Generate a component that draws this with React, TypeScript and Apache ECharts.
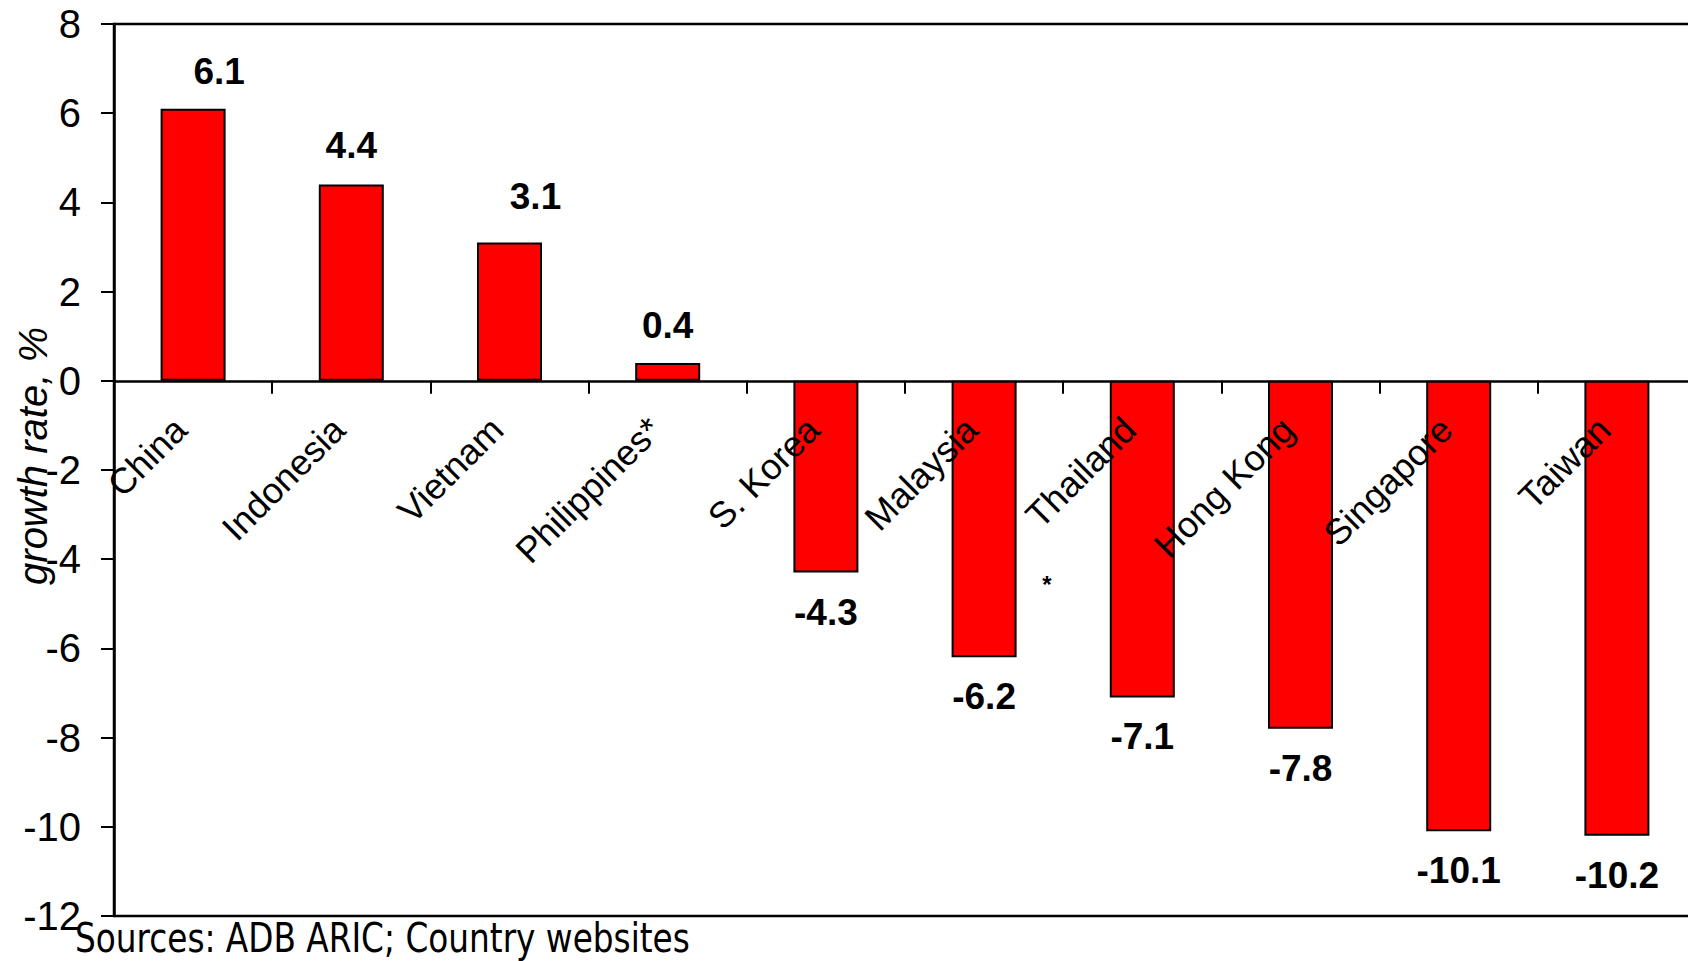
import React, { useEffect, useRef } from "react";
import * as echarts from "echarts";

const categories = [
  "China",
  "Indonesia",
  "Vietnam",
  "Philippines*",
  "S. Korea",
  "Malaysia",
  "Thailand",
  "Hong Kong",
  "Singapore",
  "Taiwan",
];
const growthRates = [6.1, 4.4, 3.1, 0.4, -4.3, -6.2, -7.1, -7.8, -10.1, -10.2];
const yTicks = { min: -12, max: 8, interval: 2 };
const axisTitle = "growth rate, %";
const sourceNote = "Sources: ADB ARIC; Country websites";
const footnoteMark = "*";

// label nudges (style only), keyed by category
const labelNudge: Record<string, [number, number]> = {
  China: [26, 0],
  Vietnam: [26, -9],
  Indonesia: [0, -2],
};

const FONT = "Liberation Sans, Arial, sans-serif";

export default function App() {
  const ref = useRef<HTMLDivElement>(null);
  useEffect(() => {
    if (!ref.current) return;
    const chart = echarts.init(ref.current, null, { renderer: "svg" });
    const data = growthRates.map((v, i) => {
      const nudge = labelNudge[categories[i]] || [0, 0];
      return {
        value: v,
        label: {
          position: v >= 0 ? "top" : "bottom",
          distance: v >= 0 ? 19 : 21,
          offset: nudge,
        },
      };
    });
    const labelAxis = (offset: number) => ({
      type: "category",
      data: categories,
      position: "bottom",
      offset,
      z: 10,
      axisLine: { show: false, onZero: false },
      axisTick: { show: false },
      axisLabel: {
        interval: 0,
        rotate: 45,
        margin: 30,
        padding: [0, 18, 0, 0],
        hideOverlap: false,
        color: "#000000",
        fontSize: 36,
        fontFamily: FONT,
      },
      splitLine: { show: false },
    });
    const baseOption = (offset: number) => ({
      animation: false,
      backgroundColor: "#ffffff",
      grid: {
        left: 114,
        top: 24,
        right: -8,
        bottom: 45,
        show: true,
        borderColor: "#000000",
        borderWidth: 2.5,
        containLabel: false,
        outerBoundsMode: "none",
      },
      xAxis: [
        {
          type: "category",
          data: categories,
          position: "bottom",
          axisLine: { onZero: true, lineStyle: { color: "#000000", width: 2.5 } },
          axisTick: {
            show: true,
            alignWithLabel: false,
            length: 13,
            lineStyle: { color: "#000000", width: 2 },
          },
          axisLabel: { show: false },
          splitLine: { show: false },
        },
        labelAxis(offset),
      ],
      yAxis: {
        type: "value",
        min: yTicks.min,
        max: yTicks.max,
        interval: yTicks.interval,
        axisLine: { show: true, lineStyle: { color: "#000000", width: 2.5 } },
        axisTick: {
          show: true,
          length: 13,
          lineStyle: { color: "#000000", width: 2 },
        },
        axisLabel: {
          margin: 33,
          color: "#000000",
          fontSize: 40,
          fontFamily: FONT,
        },
        splitLine: { show: false },
      },
      series: [
        {
          type: "bar",
          data,
          xAxisIndex: 0,
          barWidth: 65,
          itemStyle: { color: "#ff0000", borderColor: "#000000", borderWidth: 2 },
          label: {
            show: true,
            color: "#000000",
            fontSize: 37,
            fontWeight: "bold",
            fontFamily: FONT,
            formatter: (p: any) => Number(p.value).toFixed(1),
          },
        },
      ],
      graphic: [
        {
          type: "text",
          x: 33,
          y: 456,
          rotation: Math.PI / 2,
          style: {
            text: axisTitle,
            fontSize: 40,
            fontStyle: "italic",
            fontFamily: FONT,
            fill: "#000000",
            align: "center",
            verticalAlign: "middle",
          },
        },
        {
          type: "text",
          x: 75,
          y: 938,
          z: 20,
          scaleX: 0.91,
          style: {
            text: sourceNote,
            fontSize: 40,
            fontFamily: "DejaVu Sans Condensed, DejaVu Sans, sans-serif",
            fill: "#000000",
            align: "left",
            verticalAlign: "middle",
          },
        },
        {
          type: "text",
          x: 1047,
          y: 584,
          style: {
            text: footnoteMark,
            fontSize: 24,
            fontWeight: "bold",
            fontFamily: FONT,
            fill: "#000000",
            align: "center",
            verticalAlign: "middle",
          },
        },
      ],
    });
    chart.setOption(baseOption(0) as any);
    // move the category label row up to the zero line, via the value axis scale
    const zeroY = chart.convertToPixel({ yAxisIndex: 0 }, 0) as number;
    const bottomY = chart.convertToPixel({ yAxisIndex: 0 }, yTicks.min) as number;
    chart.setOption(baseOption(zeroY - bottomY) as any, true);
    return () => chart.dispose();
  }, []);
  return (
    <div
      ref={ref}
      style={{ position: "fixed", left: 0, top: 0, width: 1688, height: 961 }}
    />
  );
}
